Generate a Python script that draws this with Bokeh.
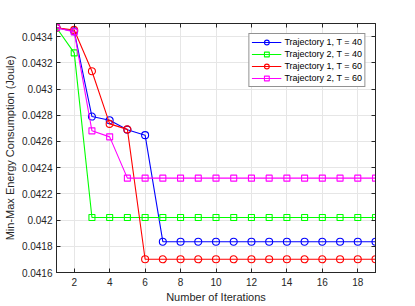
from bokeh.plotting import figure
from bokeh.models import Range1d, FixedTicker, LinearAxis, Legend
from bokeh.embed import file_html
from bokeh.resources import INLINE

iterations = list(range(1, 20))
traj1_t40 = [0.043468, 0.043440, 0.042790, 0.042762, 0.042690, 0.042648] + [0.041835] * 13
traj2_t40 = [0.043468, 0.043276] + [0.042020] * 17
traj1_t60 = [0.043468, 0.043451, 0.043136, 0.042734, 0.042692] + [0.041701] * 14
traj2_t60 = [0.043468, 0.043436, 0.042681, 0.042635] + [0.042320] * 15

series_labels = ["Trajectory 1, T = 40", "Trajectory 2, T = 40",
                 "Trajectory 1, T = 60", "Trajectory 2, T = 60"]
series_colors = ["#0000ff", "#00ff00", "#ff0000", "#ff00ff"]
series_markers = ["circle", "square", "circle", "square"]

x_ticks = [2, 4, 6, 8, 10, 12, 14, 16, 18]
y_ticks = [0.0416, 0.0418, 0.042, 0.0422, 0.0424, 0.0426, 0.0428, 0.043, 0.0432, 0.0434]
y_tick_labels = ["0.0416", "0.0418", "0.042", "0.0422", "0.0424", "0.0426",
                 "0.0428", "0.043", "0.0432", "0.0434"]

FONT = "Liberation Sans"
AX = "#262626"

p = figure(width=415, height=306, output_backend="svg", toolbar_location=None,
           x_range=Range1d(1, 19), y_range=Range1d(0.0416, 0.0435),
           min_border_left=54, min_border_right=40, min_border_top=23, min_border_bottom=34)
p.background_fill_color = "white"
p.border_fill_color = "white"
p.outline_line_color = AX
p.outline_line_width = 1

for ax in (p.xaxis[0], p.yaxis[0]):
    ax.axis_line_color = AX
    ax.major_tick_line_color = AX
    ax.major_tick_in = 4
    ax.major_tick_out = 0
    ax.minor_tick_line_color = None
    ax.major_label_text_font = FONT
    ax.major_label_text_font_size = "10px"
    ax.major_label_text_color = AX
    ax.axis_label_text_font = FONT
    ax.axis_label_text_font_size = "11px"
    ax.axis_label_text_font_style = "normal"
    ax.axis_label_text_color = AX

p.xaxis.ticker = FixedTicker(ticks=x_ticks)
p.yaxis.ticker = FixedTicker(ticks=y_ticks)
p.yaxis.major_label_overrides = {t: l for t, l in zip(y_ticks, y_tick_labels)}
p.xaxis.axis_label = "Number of Iterations"
p.yaxis.axis_label = "Min-Max Energy Consumption (Joule)"
p.xaxis.major_label_standoff = 5
p.xaxis.axis_label_standoff = 2
p.yaxis.major_label_standoff = 4
p.yaxis.axis_label_standoff = 3

for loc, tks in (("above", x_ticks), ("right", y_ticks)):
    a = LinearAxis(ticker=FixedTicker(ticks=tks), axis_line_color=AX,
                   major_tick_line_color=AX, major_tick_in=4, major_tick_out=0,
                   minor_tick_line_color=None, major_label_text_font_size="4px",
                   major_label_text_color=None, major_label_standoff=0)
    p.add_layout(a, loc)

p.xgrid.ticker = FixedTicker(ticks=x_ticks)
p.ygrid.ticker = FixedTicker(ticks=y_ticks)
p.grid.grid_line_color = "#e6e6e6"
p.grid.grid_line_width = 1

all_series = [traj1_t40, traj2_t40, traj1_t60, traj2_t60]
items = []
for vals, lab, col, mk in zip(all_series, series_labels, series_colors, series_markers):
    r1 = p.line(iterations, vals, line_color=col, line_width=1.1)
    r2 = p.scatter(iterations, vals, marker=mk, size=7 if mk == "circle" else 6,
                   line_color=col, fill_color=None, line_width=1.1)
    items.append((lab, [r1, r2]))

legend = Legend(items=items, location="top_right")
legend.margin = 10
legend.padding = 2
legend.spacing = 0
legend.glyph_width = 30
legend.glyph_height = 12
legend.label_height = 12
legend.label_standoff = 3
legend.label_text_font = FONT
legend.label_text_font_size = "9px"
legend.label_text_color = "#000000"
legend.border_line_color = AX
legend.border_line_width = 1
legend.background_fill_color = "white"
legend.background_fill_alpha = 1
p.add_layout(legend, "center")

open("out.html", "w").write(file_html(p, INLINE))
